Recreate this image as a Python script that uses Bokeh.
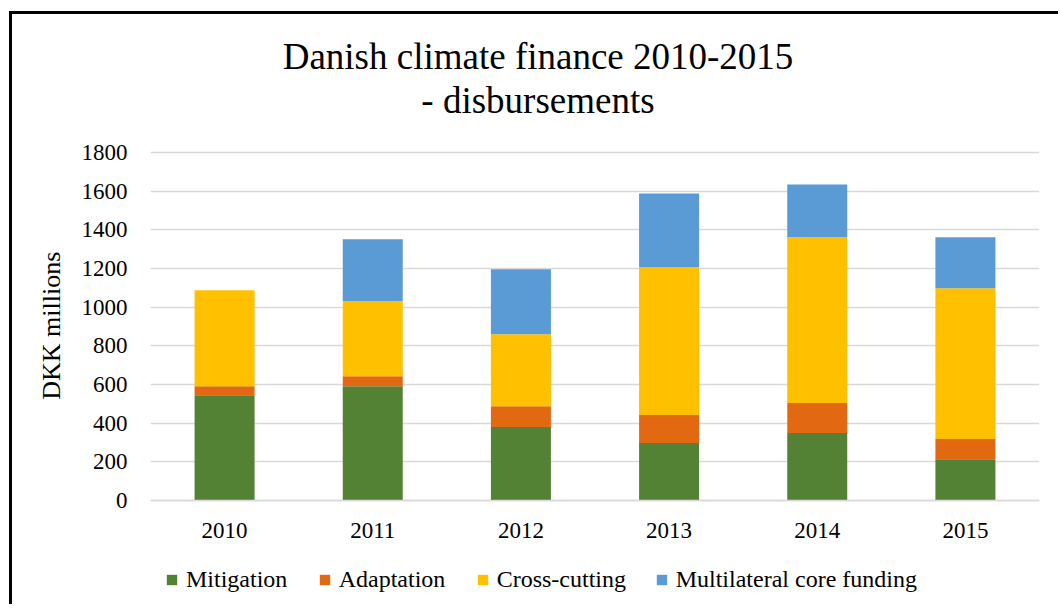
from bokeh.plotting import figure
from bokeh.models import FactorRange, Range1d, Label, Legend, LegendItem, ColumnDataSource
from bokeh.layouts import column
from bokeh.embed import file_html
from bokeh.resources import INLINE

years = ["2010", "2011", "2012", "2013", "2014", "2015"]
mitigation = [545, 591, 380, 297, 349, 214]
adaptation = [46, 52, 108, 145, 155, 104]
cross_cutting = [496, 387, 372, 764, 857, 780]
multilateral = [0, 321, 336, 382, 274, 263]
series_names = ["Mitigation", "Adaptation", "Cross-cutting", "Multilateral core funding"]
colors = ["#548235", "#E26912", "#FFC000", "#5B9BD5"]
y_ticks = [0, 200, 400, 600, 800, 1000, 1200, 1400, 1600, 1800]
title_lines = ["Danish climate finance 2010-2015", "- disbursements"]
y_label = "DKK millions"

FONT = "Liberation Serif"
keys = ["mitigation", "adaptation", "cross", "multi"]
src = ColumnDataSource(dict(year=years, mitigation=mitigation, adaptation=adaptation,
                            cross=cross_cutting, multi=multilateral))

# layout geometry (pixels inside the figure)
W, H = 1040, 590
AX_TOP_PX = 138      # pixel of the 1800 line from the figure top
AX_BOT_PX = 486      # pixel of the 0 line from the figure top
ymax = y_ticks[-1]
ppu = (AX_BOT_PX - AX_TOP_PX) / ymax
y_lo = -(H - AX_BOT_PX) / ppu
y_hi = ymax + AX_TOP_PX / ppu

p = figure(x_range=FactorRange(*years, range_padding=0), y_range=Range1d(y_lo, y_hi),
           width=W, height=H, output_backend="svg", toolbar_location=None,
           min_border_left=138, min_border_right=13, min_border_top=0, min_border_bottom=0)
p.outline_line_color = None
p.background_fill_color = "white"
p.border_fill_color = "white"

bars = p.vbar_stack(keys, x="year", width=0.405, color=colors, line_color=None, source=src)

# grid
p.xgrid.grid_line_color = None
p.ygrid.ticker = y_ticks
p.ygrid.grid_line_color = "#D9D9D9"
p.ygrid.grid_line_width = 1.6

# y axis
p.yaxis.ticker = y_ticks
p.yaxis.bounds = (0, ymax)
p.yaxis.axis_line_color = None
p.yaxis.major_tick_line_color = None
p.yaxis.minor_tick_line_color = None
p.yaxis.major_label_standoff = 17
p.yaxis.major_label_text_font = FONT
p.yaxis.major_label_text_font_size = "23px"
p.yaxis.major_label_text_color = "black"
# trailing no-break spaces shift the centred label down to the middle of the 0-1800 span
p.yaxis.axis_label = y_label + "\u00a0" * 5
p.yaxis.axis_label_text_font = FONT
p.yaxis.axis_label_text_font_size = "26px"
p.yaxis.axis_label_text_font_style = "normal"
p.yaxis.axis_label_text_color = "black"
p.yaxis.axis_label_standoff = 13

# x axis placed at the zero line
p.xaxis.fixed_location = 0
p.xaxis.axis_line_color = "#D9D9D9"
p.xaxis.axis_line_width = 1.6
p.xaxis.major_tick_line_color = None
p.xaxis.minor_tick_line_color = None
p.xaxis.major_label_standoff = 16
p.xaxis.major_label_text_font = FONT
p.xaxis.major_label_text_font_size = "23px"
p.xaxis.major_label_text_color = "black"

# title
for line, off in zip(title_lines, [96, 52]):
    p.add_layout(Label(x=3, y=ymax, x_offset=-57, y_offset=off, text=line,
                       text_align="center", text_baseline="alphabetic",
                       text_font=FONT, text_font_size="37px", text_color="black"))

# legend: separate single-item legends
legend_x = [15, 167.7, 325.7, 504.7]
for name, r, lx in zip(series_names, bars, legend_x):
    leg = Legend(items=[LegendItem(label=name, renderers=[r])], location=(lx, 11.5),
                 orientation="horizontal", glyph_width=13, glyph_height=13, label_height=25,
                 label_standoff=8, padding=0, margin=0, spacing=0,
                 border_line_color=None, background_fill_alpha=0,
                 label_text_font=FONT, label_text_font_size="24px", label_text_color="black")
    p.add_layout(leg, "center")

layout = column(p, styles={"border-left": "3px solid black", "border-top": "3px solid black",
                           "margin-left": "9px", "margin-top": "11px", "padding-right": "6px"})

open("out.html", "w").write(file_html(layout, INLINE))
